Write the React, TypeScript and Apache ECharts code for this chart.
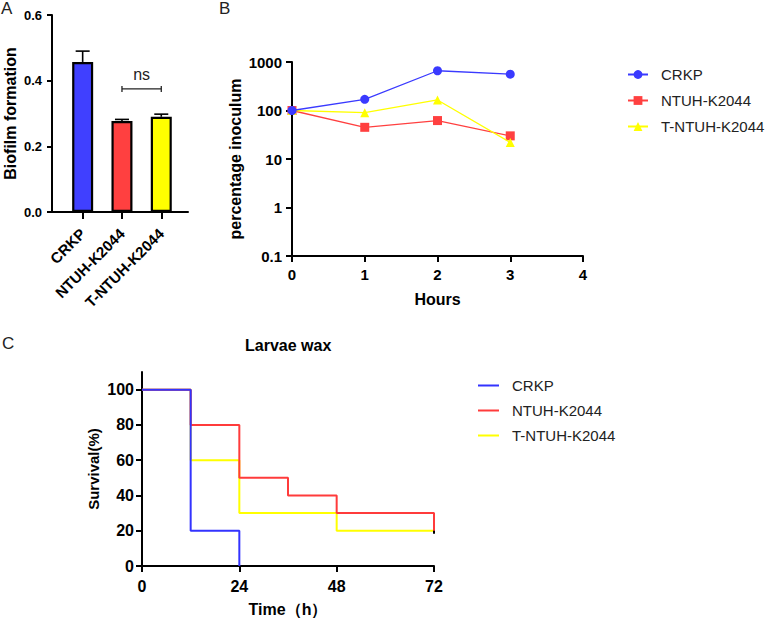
import React, { useEffect, useRef } from "react";
import * as echarts from "echarts";

// Panel A: biofilm formation
const biofilmCategories = ["CRKP", "NTUH-K2044", "T-NTUH-K2044"];
const biofilmMeans = [0.457, 0.277, 0.29];
const biofilmErrors = [0.033, 0.005, 0.008];
const biofilmColors = ["#4040ff", "#ff4040", "#ffff00"];
const biofilmTicks = [0, 0.2, 0.4, 0.6];

// Panel B: percentage inoculum over hours
const hours = [0, 1, 2, 3];
const inoculumCRKP = [100, 170, 660, 560];
const inoculumNTUH = [100, 45, 62, 30];
const inoculumTNTUH = [100, 90, 165, 22];

// Panel C: survival (Kaplan–Meier steps)
const survTimesCRKP = [0, 12, 24];
const survCRKP = [100, 20, 0];
const survTimesNTUH = [0, 12, 24, 36, 48, 72];
const survNTUH = [100, 80, 50, 40, 30, 20];
const survTimesTNTUH = [0, 12, 24, 48, 72];
const survTNTUH = [100, 60, 30, 20, 20];
const survTicks = [0, 20, 40, 60, 80, 100];

const seriesNames = ["CRKP", "NTUH-K2044", "T-NTUH-K2044"];
const lineColors = ["#3333ff", "#ff3b3b", "#ffff00"];

const FONT = "Arial, 'Liberation Sans', Helvetica, sans-serif";

export default function App() {
  const ref = useRef<HTMLDivElement>(null);
  useEffect(() => {
    document.body.style.margin = "0";
    const chart = echarts.init(ref.current!, null, { renderer: "svg" });
    const axisLine = { show: true, onZero: false, lineStyle: { color: "#000", width: 2 } };
    const axisTick = (len: number) => ({ show: true, inside: false, length: len, lineStyle: { color: "#000", width: 2 } });
    const tickLabel = (size: number) => ({ color: "#000", fontSize: size, fontWeight: "bold" as const, fontFamily: FONT });
    const nameStyle = { color: "#000", fontSize: 16, fontWeight: "bold" as const, fontFamily: FONT };

    const zip = (xs: number[], ys: number[]) => xs.map((x, i) => [x, ys[i]]);

    const option: any = {
      animation: false,
      textStyle: { fontFamily: FONT },
      title: [
        { text: "A", left: 1, top: 0, padding: 0, textStyle: { fontSize: 17, fontWeight: "normal", color: "#222", fontFamily: FONT } },
        { text: "B", left: 219, top: 0, padding: 0, textStyle: { fontSize: 17, fontWeight: "normal", color: "#222", fontFamily: FONT } },
        { text: "C", left: 2, top: 335, padding: 0, textStyle: { fontSize: 17, fontWeight: "normal", color: "#222", fontFamily: FONT } },
        { text: "Larvae wax", left: 245, top: 337, padding: 0, textStyle: { fontSize: 16, fontWeight: "bold", color: "#000", fontFamily: FONT } },
      ],
      grid: [
        { left: 52, top: 15, width: 136, height: 197 },
        { left: 292, top: 62, width: 291, height: 194 },
        { left: 142, top: 372, width: 292, height: 194 },
      ],
      legend: [
        {
          orient: "vertical",
          left: 627,
          top: 67,
          padding: 0,
          itemWidth: 20,
          itemHeight: 11,
          itemGap: 11,
          data: seriesNames,
          textStyle: { fontSize: 15, color: "#222", fontFamily: FONT, padding: [0, 0, 0, 8] },
        },
        {
          orient: "vertical",
          left: 478,
          top: 378,
          padding: 0,
          itemWidth: 21,
          itemHeight: 2,
          itemGap: 10,
          data: seriesNames.map((n, i) => ({ name: n, icon: "rect", itemStyle: { color: lineColors[i] } })),
          textStyle: { fontSize: 15, color: "#222", fontFamily: FONT, padding: [0, 0, 0, 8] },
        },
      ],
      xAxis: [
        {
          gridIndex: 0,
          type: "value",
          min: -0.78,
          max: 2.68,
          splitLine: { show: false },
          axisLine,
          axisTick: { ...axisTick(7), customValues: [0, 1, 2] },
          axisLabel: {
            ...tickLabel(15),
            rotate: 45,
            margin: 19,
            customValues: [0, 1, 2],
            formatter: (v: number) => biofilmCategories[Math.round(v)] ?? "",
          },
        },
        {
          gridIndex: 1,
          type: "value",
          min: 0,
          max: 4,
          interval: 1,
          splitLine: { show: false },
          axisLine,
          axisTick: axisTick(6),
          axisLabel: { ...tickLabel(15), margin: 11 },
          name: "Hours",
          nameLocation: "middle",
          nameGap: 35,
          nameTextStyle: nameStyle,
        },
        {
          gridIndex: 2,
          type: "value",
          min: 0,
          max: 72,
          interval: 24,
          splitLine: { show: false },
          axisLine,
          axisTick: axisTick(6),
          axisLabel: { ...tickLabel(16), margin: 12 },
          name: "Time（h）",
          nameLocation: "middle",
          nameGap: 35,
          nameTextStyle: nameStyle,
        },
      ],
      yAxis: [
        {
          gridIndex: 0,
          type: "value",
          min: 0,
          max: 0.6,
          splitLine: { show: false },
          axisLine,
          axisTick: { ...axisTick(5), customValues: biofilmTicks },
          axisLabel: { ...tickLabel(13), margin: 10, customValues: biofilmTicks, formatter: (v: number) => v.toFixed(1) },
          name: "Biofilm formation",
          nameLocation: "middle",
          nameGap: 34,
          nameTextStyle: nameStyle,
        },
        {
          gridIndex: 1,
          type: "log",
          logBase: 10,
          min: 0.1,
          max: 1000,
          splitLine: { show: false },
          axisLine,
          axisTick: axisTick(6),
          axisLabel: { ...tickLabel(15), margin: 10, formatter: (v: number) => (v < 1 ? v.toFixed(1) : String(Math.round(v))) },
          name: "percentage inoculum",
          nameLocation: "middle",
          nameGap: 49,
          nameTextStyle: nameStyle,
        },
        {
          gridIndex: 2,
          type: "value",
          min: 0,
          max: 110,
          splitLine: { show: false },
          axisLine,
          axisTick: { ...axisTick(6), customValues: survTicks },
          axisLabel: { ...tickLabel(16), margin: 8, customValues: survTicks },
          name: "Survival(%)",
          nameLocation: "middle",
          nameGap: 41,
          nameTextStyle: { ...nameStyle, fontSize: 15 },
        },
      ],
      series: [
        // Panel B
        {
          name: seriesNames[0], type: "line", xAxisIndex: 1, yAxisIndex: 1,
          data: zip(hours, inoculumCRKP), symbol: "circle", symbolSize: 9,
          itemStyle: { color: "#3a3aff" }, lineStyle: { width: 1.3, color: "#3a3aff" }, z: 4,
        },
        {
          name: seriesNames[1], type: "line", xAxisIndex: 1, yAxisIndex: 1,
          data: zip(hours, inoculumNTUH), symbol: "rect", symbolSize: 9,
          itemStyle: { color: "#ff4040" }, lineStyle: { width: 1.3, color: "#ff4040" }, z: 2,
        },
        {
          name: seriesNames[2], type: "line", xAxisIndex: 1, yAxisIndex: 1,
          data: zip(hours, inoculumTNTUH), symbol: "triangle", symbolSize: 9,
          itemStyle: { color: "#ffff00" }, lineStyle: { width: 1.3, color: "#ffff00" }, z: 3,
        },
        // Panel A bars
        {
          name: "Biofilm", type: "bar", xAxisIndex: 0, yAxisIndex: 0, barWidth: 21,
          data: biofilmMeans.map((m, i) => ({
            value: [i, m],
            itemStyle: { color: biofilmColors[i], borderColor: "#000", borderWidth: 2.2 },
          })),
          z: 2,
        },
        // Panel A error bars
        {
          name: "Error", type: "custom", xAxisIndex: 0, yAxisIndex: 0, z: 3,
          data: biofilmMeans.map((m, i) => [i, m, m + biofilmErrors[i]]),
          renderItem: (params: any, api: any) => {
            const x = api.value(0);
            const base = api.coord([x, api.value(1)]);
            const top = api.coord([x, api.value(2)]);
            const half = 7;
            const style = { stroke: "#000", lineWidth: 1.6 };
            return {
              type: "group",
              children: [
                { type: "line", shape: { x1: base[0], y1: base[1], x2: top[0], y2: top[1] }, style },
                { type: "line", shape: { x1: top[0] - half, y1: top[1], x2: top[0] + half, y2: top[1] }, style },
              ],
            };
          },
        },
        // Panel A significance bracket
        {
          name: "ns", type: "custom", xAxisIndex: 0, yAxisIndex: 0, z: 3,
          data: [[1, 2, 0.375]],
          renderItem: (params: any, api: any) => {
            const a = api.coord([api.value(0), api.value(2)]);
            const b = api.coord([api.value(1), api.value(2)]);
            const style = { stroke: "#222", lineWidth: 1.3 };
            return {
              type: "group",
              children: [
                { type: "line", shape: { x1: a[0], y1: a[1], x2: b[0], y2: b[1] }, style },
                { type: "line", shape: { x1: a[0], y1: a[1] - 3, x2: a[0], y2: a[1] + 3 }, style },
                { type: "line", shape: { x1: b[0], y1: b[1] - 3, x2: b[0], y2: b[1] + 3 }, style },
                {
                  type: "text",
                  x: (a[0] + b[0]) / 2,
                  y: a[1] - 6,
                  style: { text: "ns", fill: "#222", fontSize: 16, fontFamily: FONT, align: "center", verticalAlign: "bottom" },
                },
              ],
            };
          },
        },
        // Panel C survival steps
        {
          name: seriesNames[2], type: "line", xAxisIndex: 2, yAxisIndex: 2, step: "end",
          data: survTimesTNTUH.map((t, i) =>
            i === survTimesTNTUH.length - 1
              ? { value: [t, survTNTUH[i]], symbol: "rect", symbolSize: [2, 6], itemStyle: { color: "#000" } }
              : { value: [t, survTNTUH[i]], symbol: "none" }
          ),
          symbol: "none", showSymbol: true,
          lineStyle: { width: 2, color: lineColors[2] }, itemStyle: { color: lineColors[2] }, z: 2,
        },
        {
          name: seriesNames[1], type: "line", xAxisIndex: 2, yAxisIndex: 2, step: "end",
          data: zip(survTimesNTUH, survNTUH), symbol: "none",
          lineStyle: { width: 2, color: lineColors[1] }, itemStyle: { color: lineColors[1] }, z: 3,
        },
        {
          name: seriesNames[0], type: "line", xAxisIndex: 2, yAxisIndex: 2, step: "end",
          data: zip(survTimesCRKP, survCRKP), symbol: "none",
          lineStyle: { width: 2, color: lineColors[0] }, itemStyle: { color: lineColors[0] }, z: 4,
        },
      ],
    };
    chart.setOption(option);
    return () => chart.dispose();
  }, []);
  return <div ref={ref} style={{ width: 771, height: 619 }} />;
}
